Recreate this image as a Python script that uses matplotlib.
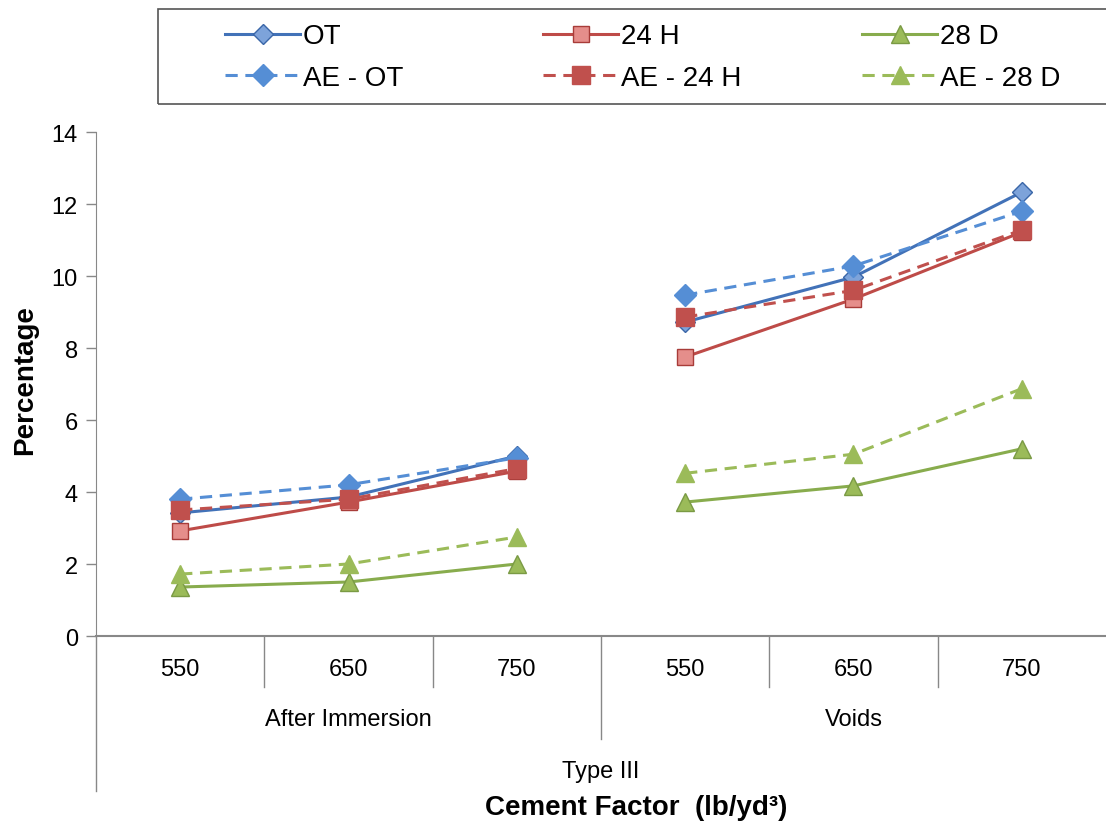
import matplotlib
matplotlib.use('Agg')
import matplotlib.pyplot as plt
from matplotlib.patches import Rectangle
from matplotlib.transforms import blended_transform_factory

plt.rcParams['font.family'] = ['Liberation Sans Narrow', 'Liberation Sans', 'DejaVu Sans']

factors = ['550', '650', '750', '550', '650', '750']
groups = ['After Immersion', 'Voids']
top_group = 'Type III'

ot = [3.42, 3.86, 5.0, 8.72, 9.97, 12.33]
h24 = [2.92, 3.72, 4.58, 7.75, 9.36, 11.22]
d28 = [1.36, 1.5, 2.0, 3.72, 4.17, 5.2]
ae_ot = [3.8, 4.2, 4.95, 9.47, 10.28, 11.8]
ae_h24 = [3.5, 3.8, 4.65, 8.86, 9.6, 11.28]
ae_d28 = [1.72, 2.0, 2.75, 4.52, 5.05, 6.87]

fig = plt.figure(figsize=(11.06, 8.29), dpi=100)
ax = fig.add_axes([96 / 1106, 1 - 637 / 829, 1 - 96 / 1106, (637 - 133) / 829])

xs = list(range(len(factors)))


def fy(py):
    return 1 - py / 829


def draw(x_idx, vals, **kw):
    # each group of three is its own line segment
    ax.plot(x_idx[:3], vals[:3], **kw)
    return ax.plot(x_idx[3:], vals[3:], **kw)[0]


dash = (0, (4, 2.5))
h_ot = draw(xs, ot, color='#4272B8', lw=2.2, marker='D', ms=10,
            mfc='#7DA3DA', mec='#3A66A8', label='OT')
h_24 = draw(xs, h24, color='#BE4B48', lw=2.2, marker='s', ms=12,
            mfc='#E58E8B', mec='#A83C39', label='24 H')
h_28 = draw(xs, d28, color='#88AC4D', lw=2.2, marker='^', ms=13,
            mfc='#9BBB59', mec='#7A9A44', label='28 D')
h_aot = draw(xs, ae_ot, color='#558ED5', lw=2.2, ls=dash, marker='D', ms=11,
             mfc='#558ED5', mec='#558ED5', label='AE - OT')
h_a24 = draw(xs, ae_h24, color='#C0504D', lw=2.2, ls=dash, marker='s', ms=13,
             mfc='#C0504D', mec='#C0504D', label='AE - 24 H')
h_a28 = draw(xs, ae_d28, color='#9BBB59', lw=2.2, ls=dash, marker='^', ms=13,
             mfc='#9BBB59', mec='#9BBB59', label='AE - 28 D')

ax.set_xlim(-0.5, len(factors) - 0.5)
ax.set_ylim(0, 14)
ax.set_yticks(range(0, 15, 2))
ax.tick_params(axis='y', labelsize=17, length=7, width=1, color='#888888', pad=6)
ax.set_xticks([])
for s in ['top', 'right']:
    ax.spines[s].set_visible(False)
ax.spines['left'].set_color('#888888')
ax.spines['bottom'].set_color('#888888')
ax.spines['bottom'].set_linewidth(1.5)

# hierarchical category axis
tr = blended_transform_factory(ax.transData, fig.transFigure)
for i, lab in enumerate(factors):
    ax.text(i, fy(670), lab, transform=tr, ha='center', va='center', fontsize=17)
for b in [0.5, 1.5, 3.5, 4.5]:
    ax.plot([b, b], [fy(637), fy(688)], transform=tr, color='#888888', lw=1, clip_on=False)
ax.plot([2.5, 2.5], [fy(637), fy(740)], transform=tr, color='#888888', lw=1, clip_on=False)
ax.plot([-0.5, -0.5], [fy(637), fy(792)], transform=tr, color='#888888', lw=1, clip_on=False)
for gi, g in enumerate(groups):
    ax.text(gi * 3 + 1, fy(720), g, transform=tr, ha='center', va='center', fontsize=17)
ax.text(2.5, fy(772), top_group, transform=tr, ha='center', va='center', fontsize=17)

fig.text(636 / 1106, fy(808), 'Cement Factor  (lb/yd³)', ha='center', va='center',
         fontsize=20, fontweight='bold')
fig.text(25 / 1106, fy(380), 'Percentage', ha='center', va='center', rotation=90,
         fontsize=20, fontweight='bold')

# legend: frame plus one legend per column
fig.patches.append(Rectangle((158 / 1106, fy(105)), 1, 95 / 829, transform=fig.transFigure,
                             fill=False, edgecolor='#555555', lw=1.2))
for x0, pair in [(225, (h_ot, h_aot)), (543, (h_24, h_a24)), (862, (h_28, h_a28))]:
    fig.legend(handles=list(pair), labels=[h.get_label() for h in pair],
               loc='center left', bbox_to_anchor=(x0 / 1106, fy(58)),
               frameon=False, fontsize=20, handlelength=2.7, handletextpad=0.1,
               borderpad=0, borderaxespad=0, labelspacing=0.55)

fig.savefig('out.png', dpi=100)
